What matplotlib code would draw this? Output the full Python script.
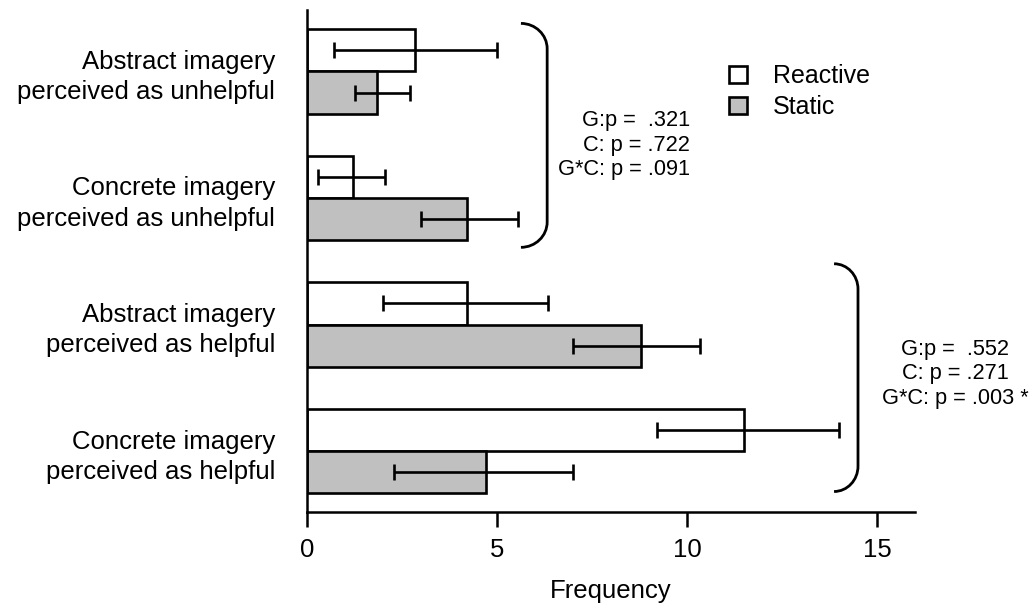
import matplotlib
matplotlib.use("Agg")
import matplotlib.pyplot as plt
import numpy as np
from matplotlib.path import Path
from matplotlib.patches import PathPatch

plt.rcParams['font.family'] = ['Liberation Sans', 'DejaVu Sans']

# data (top to bottom)
categories = ["Abstract imagery\nperceived as unhelpful",
              "Concrete imagery\nperceived as unhelpful",
              "Abstract imagery\nperceived as helpful",
              "Concrete imagery\nperceived as helpful"]
reactive = [2.85, 1.2, 4.2, 11.5]
reactive_lo = [0.7, 0.3, 2.0, 9.2]
reactive_hi = [5.0, 2.05, 6.35, 14.0]
static = [1.85, 4.2, 8.8, 4.7]
static_lo = [1.25, 3.0, 7.0, 2.3]
static_hi = [2.7, 5.55, 10.35, 7.0]
x_ticks = [0, 5, 10, 15]
stats_unhelpful = "G:p =  .321\nC: p = .722\nG*C: p = .091"
stats_helpful = "G:p =  .552\nC: p = .271\nG*C: p = .003 *"

fig = plt.figure(figsize=(10.32, 6.04), dpi=100)
ax = fig.add_axes([307 / 1032, 92 / 604, 608 / 1032, 502 / 604])

y = np.arange(len(categories))
h = 0.335
err_r = [np.array(reactive) - np.array(reactive_lo), np.array(reactive_hi) - np.array(reactive)]
err_s = [np.array(static) - np.array(static_lo), np.array(static_hi) - np.array(static)]
ekw = dict(ecolor='black', elinewidth=1.9, capsize=5.5, capthick=1.9)

ax.barh(y - h / 2, reactive, height=h, color='white', edgecolor='black',
        linewidth=1.9, xerr=err_r, error_kw=ekw, label='Reactive')
ax.barh(y + h / 2, static, height=h, color='#c0c0c0', edgecolor='black',
        linewidth=1.9, xerr=err_s, error_kw=ekw, label='Static')

ax.set_xlim(0, 16)
ax.set_ylim(3.482, -0.486)
ax.set_yticks(y)
ax.set_yticklabels(categories, fontsize=18.5, ha='right', linespacing=1.32)
ax.set_xticks(x_ticks)
ax.tick_params(axis='x', length=11, width=1.8, pad=8, labelsize=18.5)
ax.tick_params(axis='y', length=0, pad=23)
ax.set_xlabel('Frequency', fontsize=18.5, labelpad=12)
for s in ['top', 'right']:
    ax.spines[s].set_visible(False)
for s in ['left', 'bottom']:
    ax.spines[s].set_linewidth(1.8)


def bracket(x0, x1, y0, y1, ry):
    k = 0.552
    dx = x1 - x0
    verts = [(x0, y0), (x0 + k * dx, y0), (x1, y0 + ry - k * ry), (x1, y0 + ry),
             (x1, y1 - ry),
             (x1, y1 - ry + k * ry), (x0 + k * dx, y1), (x0, y1)]
    codes = [Path.MOVETO, Path.CURVE4, Path.CURVE4, Path.CURVE4,
             Path.LINETO,
             Path.CURVE4, Path.CURVE4, Path.CURVE4]
    ax.add_patch(PathPatch(Path(verts, codes), fill=False, lw=2.0,
                           edgecolor='black', clip_on=False))


bracket(5.63, 6.32, -0.38, 1.39, 0.2)
bracket(13.87, 14.5, 1.52, 3.32, 0.2)

fig.text(690 / 1032, 1 - 145 / 604, stats_unhelpful, ha='right', va='center',
         multialignment='right', fontsize=15.7, linespacing=1.22)
fig.text(955 / 1032, 1 - 374 / 604, stats_helpful, ha='center', va='center',
         multialignment='center', fontsize=15.7, linespacing=1.22)

leg = ax.legend(loc='upper left', bbox_to_anchor=(729 / 1032, 1 - 64 / 604),
                bbox_transform=fig.transFigure, frameon=False, fontsize=18,
                handlelength=0.7, handleheight=0.7, handletextpad=1.05,
                labelspacing=0.28, borderpad=0, borderaxespad=0)

fig.savefig('out.png', dpi=100)
